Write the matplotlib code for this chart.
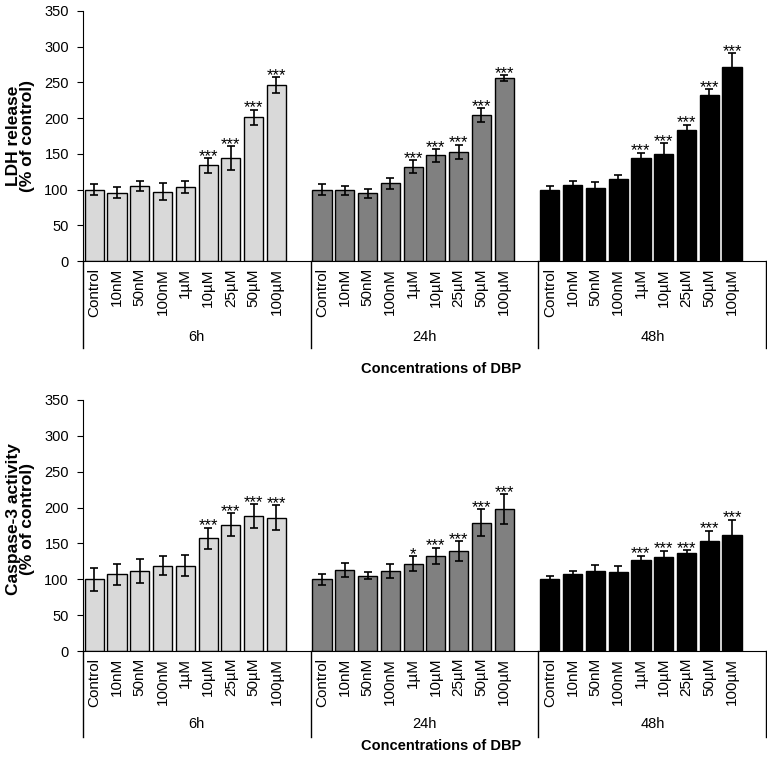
import numpy as np
import matplotlib
matplotlib.use("Agg")
import matplotlib.pyplot as plt

plt.rcParams['font.family'] = ['Liberation Sans', 'DejaVu Sans']

# --- data ---
concentrations = ['Control', '10nM', '50nM', '100nM', '1µM', '10µM', '25µM', '50µM', '100µM']
times = ['6h', '24h', '48h']
colors = ['#d9d9d9', '#808080', '#000000']

# LDH release (% of control)
ldh_6h = [100, 96, 105, 97, 104, 134, 144, 201, 246]
ldh_6h_err = [8, 8, 7, 12, 8, 10, 17, 11, 11]
ldh_24h = [100, 99, 95, 109, 132, 148, 153, 204, 256]
ldh_24h_err = [8, 6, 6, 8, 9, 9, 10, 10, 4]
ldh_48h = [100, 106, 103, 115, 144, 150, 184, 232, 271]
ldh_48h_err = [5, 6, 8, 6, 8, 15, 7, 9, 20]
ldh_stars_6h = ['', '', '', '', '', '***', '***', '***', '***']
ldh_stars_24h = ['', '', '', '', '***', '***', '***', '***', '***']
ldh_stars_48h = ['', '', '', '', '***', '***', '***', '***', '***']

# Caspase-3 activity (% of control)
casp_6h = [100, 107, 112, 119, 119, 157, 176, 188, 186]
casp_6h_err = [16, 15, 17, 13, 15, 15, 16, 17, 17]
casp_24h = [100, 113, 105, 112, 122, 133, 139, 179, 198]
casp_24h_err = [8, 10, 5, 10, 10, 11, 14, 19, 21]
casp_48h = [100, 107, 112, 110, 127, 131, 136, 153, 162]
casp_48h_err = [5, 5, 8, 8, 6, 9, 5, 15, 21]
casp_stars_6h = ['', '', '', '', '', '***', '***', '***', '***']
casp_stars_24h = ['', '', '', '', '*', '***', '***', '***', '***']
casp_stars_48h = ['', '', '', '', '***', '***', '***', '***', '***']


def draw_panel(ax, values, errors, stars, group_y, title_y, div_y):
    # each time point gets 10 slots: 9 bars + one empty slot
    for g in range(3):
        x = np.arange(9) + g * 10 + 0.5
        ax.bar(x, values[g], width=0.84, color=colors[g], edgecolor='black',
               linewidth=1.0, zorder=2)
        ax.errorbar(x, values[g], yerr=errors[g], fmt='none', ecolor='black',
                    elinewidth=1.2, capsize=3, capthick=1.2, zorder=3)
        for xi, v, e, s in zip(x, values[g], errors[g], stars[g]):
            if s:
                ax.annotate(s, (xi, v + e), xytext=(0, -2), textcoords='offset points',
                            ha='center', va='baseline', fontsize=12)
        ax.text(g * 10 + 5, group_y, times[g], transform=ax.get_xaxis_transform(),
                ha='center', va='center', fontsize=10.5)

    for d in [0, 10, 20, 30]:
        ax.plot([d, d], [0, div_y], transform=ax.get_xaxis_transform(),
                color='black', linewidth=1.0, clip_on=False)

    ticks = [g * 10 + i + 0.5 for g in range(3) for i in range(9)]
    ax.set_xticks(ticks)
    ax.set_xticklabels(concentrations * 3, rotation=90, fontsize=11)
    ax.tick_params(axis='x', length=0, pad=5)
    ax.set_xlim(0, 30)
    ax.set_ylim(0, 350)
    ax.set_yticks(np.arange(0, 351, 50))
    ax.tick_params(axis='y', direction='out', length=4, labelsize=10.5, pad=6)
    ax.spines['top'].set_visible(False)
    ax.spines['right'].set_visible(False)
    ax.text(0.525, title_y, 'Concentrations of DBP', transform=ax.transAxes,
            ha='center', va='center', fontsize=10.5, fontweight='bold')


fig = plt.figure(figsize=(7.67, 7.57), dpi=100)
ax1 = fig.add_axes([0.108, 0.655, 0.891, 0.3305])
ax2 = fig.add_axes([0.108, 0.140, 0.891, 0.3316])

draw_panel(ax1, [ldh_6h, ldh_24h, ldh_48h], [ldh_6h_err, ldh_24h_err, ldh_48h_err],
           [ldh_stars_6h, ldh_stars_24h, ldh_stars_48h], -0.304, -0.43, -0.348)
draw_panel(ax2, [casp_6h, casp_24h, casp_48h], [casp_6h_err, casp_24h_err, casp_48h_err],
           [casp_stars_6h, casp_stars_24h, casp_stars_48h], -0.29, -0.378, -0.343)

fig.text(0.027, 0.82, 'LDH release\n(% of control)', rotation=90, ha='center', va='center',
         fontsize=12.5, fontweight='bold', linespacing=0.95)
fig.text(0.027, 0.314, 'Caspase-3 activity\n(% of control)', rotation=90, ha='center',
         va='center', fontsize=12.5, fontweight='bold', linespacing=0.95)

fig.savefig('out.png', dpi=100)
